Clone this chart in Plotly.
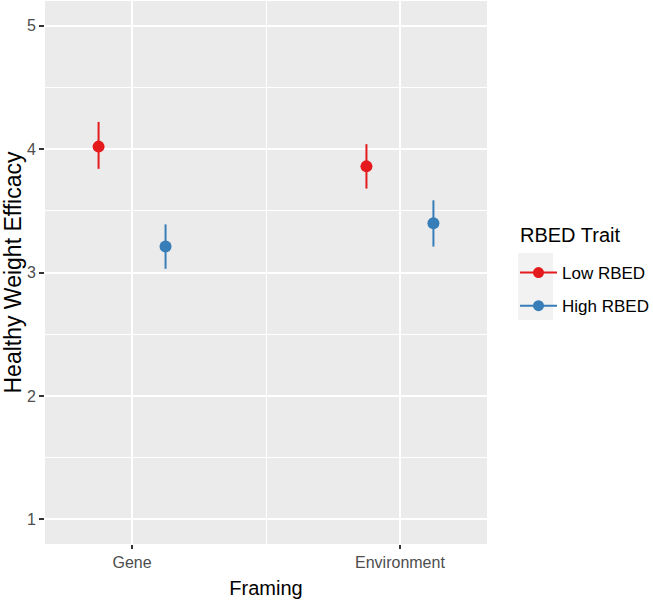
import plotly.graph_objects as go

framing = ["Gene", "Environment"]
framing_pos = [1, 2]
groups = ["Low RBED", "High RBED"]
colors = ["#E41A1C", "#377EB8"]
dodge = [-0.125, 0.125]

means = {"Low RBED": [4.02, 3.86], "High RBED": [3.21, 3.40]}
upper = {"Low RBED": [4.22, 4.04], "High RBED": [3.39, 3.585]}
lower = {"Low RBED": [3.84, 3.68], "High RBED": [3.03, 3.21]}

y_ticks = [1, 2, 3, 4, 5]

fig = go.Figure()
for g, c, d in zip(groups, colors, dodge):
    xs = [p + d for p in framing_pos]
    m = means[g]
    up = [u - v for u, v in zip(upper[g], m)]
    lo = [v - l for l, v in zip(lower[g], m)]
    fig.add_trace(go.Scatter(
        x=xs, y=m, mode="markers", showlegend=False,
        marker=dict(color=c, size=12),
        error_y=dict(type="data", symmetric=False, array=up, arrayminus=lo,
                     color=c, thickness=2, width=0),
    ))
for g, c in zip(groups, colors):
    fig.add_trace(go.Scatter(
        x=[None], y=[None], mode="lines+markers", name=g, legendgroup=g,
        marker=dict(color=c, size=11), line=dict(color=c, width=2),
    ))

PL, PR, PT, PB = 45, 487, 1, 544
def px_x(x):
    return (x - PL) / (PR - PL)
def px_y(y):
    return (PB - y) / (PB - PT)

# legend key background (ggplot style)
fig.add_shape(type="rect", xref="paper", yref="paper",
              x0=px_x(518), x1=px_x(553), y0=px_y(320), y1=px_y(253),
              fillcolor="#F2F2F2", line=dict(width=0), layer="below")
fig.add_annotation(text="RBED Trait", xref="paper", yref="paper",
                   x=px_x(518), y=px_y(235), xanchor="left", yanchor="middle",
                   showarrow=False, font=dict(size=20, color="black"))

fig.update_layout(
    width=653, height=600,
    margin=dict(l=PL, r=653 - PR, t=PT, b=600 - PB, autoexpand=False),
    paper_bgcolor="white", plot_bgcolor="#EBEBEB",
    font=dict(family="Liberation Sans, Arial, sans-serif"),
    legend=dict(
        font=dict(size=17, color="black"),
        x=px_x(515), xanchor="left", y=px_y(255), yanchor="top",
        bgcolor="rgba(0,0,0,0)", itemwidth=37, tracegroupgap=8,
    ),
    xaxis=dict(
        range=[0.675, 2.325], tickvals=framing_pos, ticktext=framing,
        showgrid=True, gridcolor="white", gridwidth=2,
        ticks="outside", ticklen=4, tickcolor="#333333", tickwidth=2,
        tickfont=dict(size=16, color="#4D4D4D"),
        title=dict(text="Framing", font=dict(size=20, color="black"), standoff=10),
        zeroline=False, automargin=False,
        minor=dict(tickvals=[1.5], showgrid=True, gridcolor="white", gridwidth=1, ticks=""),
    ),
    yaxis=dict(
        range=[0.8, 5.2], tickvals=y_ticks,
        showgrid=True, gridcolor="white", gridwidth=2,
        ticks="outside", ticklen=5, tickcolor="#333333", tickwidth=2,
        tickfont=dict(size=16, color="#4D4D4D"),
        title=dict(text="Healthy Weight Efficacy", font=dict(size=23, color="black"), standoff=6),
        zeroline=False, automargin=False,
        minor=dict(tickvals=[1.5, 2.5, 3.5, 4.5], showgrid=True, gridcolor="white", gridwidth=1, ticks=""),
    ),
)

fig.write_html("out.html", config={"displayModeBar": False},
               post_script="document.body.style.margin='0';")
